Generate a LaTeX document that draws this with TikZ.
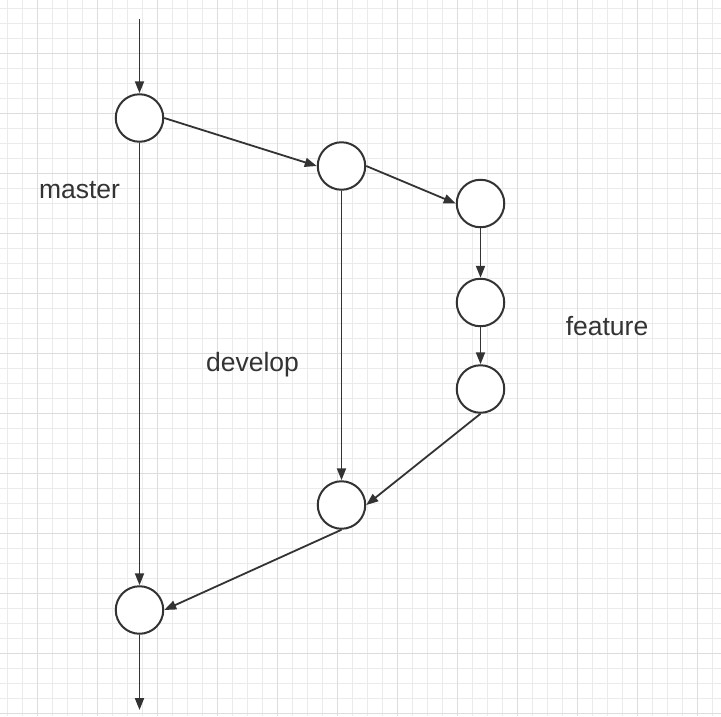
\documentclass[tikz,border=0pt]{standalone}
\usepackage{fontspec}
\setmainfont{Liberation Sans}
\usetikzlibrary{arrows.meta}
\definecolor{ink}{HTML}{333333}
\definecolor{gridminor}{HTML}{EBEBEB}
\definecolor{gridmajor}{HTML}{DDDDDD}
\tikzset{
  commit/.style={circle, draw=ink, line width=2pt, fill=white, minimum size=47.5pt, inner sep=0pt},
  flow/.style={draw=ink, line width=1.8pt, -{Triangle[length=12pt,width=9pt]}},
  lbl/.style={text=ink, anchor=base, font=\fontsize{26.5}{30}\selectfont, inner sep=0pt},
  gminor/.style={draw=gridminor, line width=1pt},
  gmajor/.style={draw=gridmajor, line width=1pt}
}
\begin{document}
\begin{tikzpicture}[x=1pt,y=-1pt]
\useasboundingbox (0,0) rectangle (721,716);
\fill[white] (0,0) rectangle (721,716);
% grid
\foreach \x in {7,22,...,720} \draw[gminor] (\x,0) -- (\x,716);
\foreach \y in {8,23,...,715} \draw[gminor] (0,\y) -- (721,\y);
\foreach \x in {37,97,...,720} \draw[gmajor] (\x,0) -- (\x,716);
\foreach \y in {53,113,...,715} \draw[gmajor] (0,\y) -- (721,\y);
% commits
\node[commit] (a) at (139.5,118) {};
\node[commit] (b) at (341.5,166) {};
\node[commit] (c) at (480.5,203.5) {};
\node[commit] (d) at (480.5,302.5) {};
\node[commit] (e) at (480.5,389) {};
\node[commit] (f) at (341.5,505) {};
\node[commit] (g) at (139.5,610) {};
\coordinate (top) at (139.5,19);
\coordinate (bot) at (139.5,710);
% labels
\node[lbl] (lm) at (79.5,198) {master};
\node[lbl] (ld) at (252.5,371.5) {develop};
\node[lbl] (lf) at (607,335.5) {feature};
% connectors
\draw[flow] (top) -- (a.north);
\draw[flow] (a.east) -- (b.west);
\draw[flow] (b.east) -- (c.west);
\draw[flow] (c.south) -- (d.north);
\draw[flow] (d.south) -- (e.north);
\draw[flow] (e.south) -- (f.east);
\draw[flow] (b.south) -- (f.north);
\draw[flow] (f.south) -- (g.east);
\draw[flow] (a.south) -- (g.north);
\draw[flow] (g.south) -- (bot);
\end{tikzpicture}
\end{document}
